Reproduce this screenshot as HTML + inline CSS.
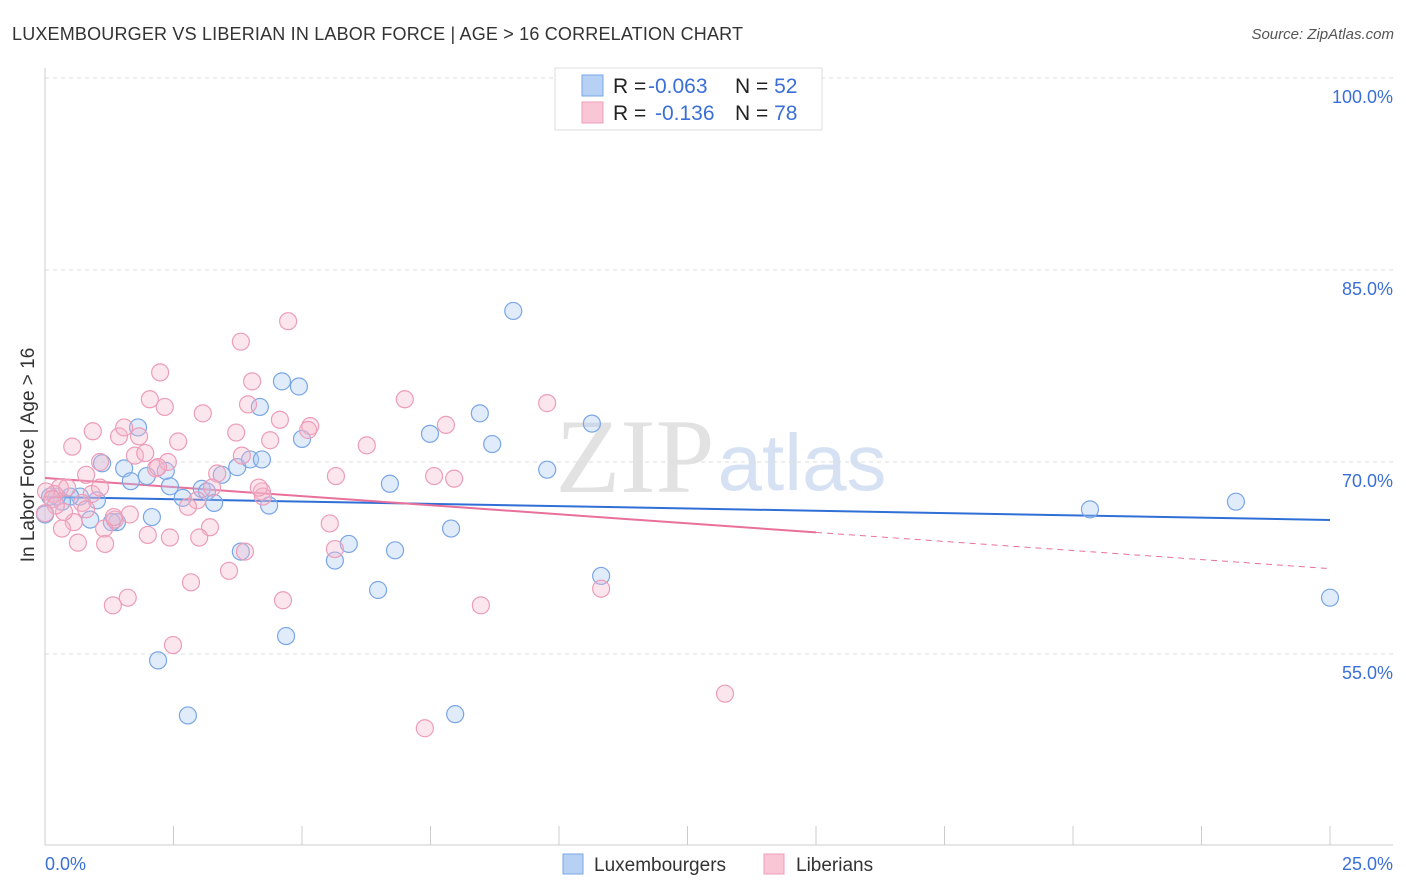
<!DOCTYPE html>
<html><head><meta charset="utf-8"><style>
body{margin:0;background:#fff;font-family:"Liberation Sans",sans-serif;}
svg{display:block}
</style></head><body>
<svg id="chart" width="1406" height="892" xmlns="http://www.w3.org/2000/svg">
<text x="12" y="40" font-size="18" fill="#333" textLength="731">LUXEMBOURGER VS LIBERIAN IN LABOR FORCE | AGE &gt; 16 CORRELATION CHART</text>
<text x="1394" y="39" font-size="15" fill="#555" font-style="italic" text-anchor="end">Source: ZipAtlas.com</text>
<g>
<text x="635" y="492" font-size="106" fill="#e2e2e2" font-family="Liberation Serif,serif" text-anchor="middle">ZIP</text>
<text x="802" y="490" font-size="80" fill="#d6e2f3" text-anchor="middle">atlas</text>
</g>
<g id="grid"></g>
<g id="axes"></g>
<g id="lines"></g>
<g id="points"></g>
<text transform="translate(34,455) rotate(-90)" font-size="19" fill="#333" text-anchor="middle">In Labor Force | Age &gt; 16</text>
<text x="45" y="870" font-size="18" fill="#3a6fd8">0.0%</text>
<text x="1393" y="870" font-size="18" fill="#3a6fd8" text-anchor="end">25.0%</text>
<g>
<rect x="555" y="68" width="267" height="62" fill="#fff" stroke="#ddd"/>
<rect x="582" y="75" width="21" height="21" fill="#b7d1f4" stroke="#7aa6e6"/>
<rect x="582" y="102" width="21" height="21" fill="#f9c6d6" stroke="#ec9db8"/>
<text x="613" y="93" font-size="21" fill="#222">R = <tspan x="648" fill="#3a6fd8">-0.063</tspan><tspan x="735">N = </tspan><tspan fill="#3a6fd8">52</tspan></text>
<text x="613" y="120" font-size="21" fill="#222">R = <tspan x="655" fill="#3a6fd8">-0.136</tspan><tspan x="735">N = </tspan><tspan fill="#3a6fd8">78</tspan></text>
</g>
<g>
<rect x="563" y="854" width="20" height="20" fill="#b7d1f4" stroke="#7aa6e6"/>
<text x="594" y="871" font-size="19" fill="#333">Luxembourgers</text>
<rect x="764" y="854" width="20" height="20" fill="#f9c6d6" stroke="#ec9db8"/>
<text x="796" y="871" font-size="19" fill="#333">Liberians</text>
</g>
</svg>
<script>
const yTicks=[100,85,70,55];
const yTickLabels=["100.0%","85.0%","70.0%","55.0%"];
const xTicks=[0,2.5,5,7.5,10,12.5,15,17.5,20,22.5,25];
const blueX=[1.81,1.54,1.11,1.67,1.98,2.35,2.43,2.68,3.05,3.15,3.29,3.44,3.74,3.99,4.22,4.36,4.18,4.61,4.94,5.00,2.08,1.40,1.30,0.88,1.01,0.68,0.49,0.33,0.23,0.10,2.20,2.78,3.81,4.69,5.64,5.91,6.48,6.71,6.81,7.49,7.90,7.98,8.46,8.70,9.11,9.77,10.64,10.82,20.33,23.17,25.0,0];
const blueY=[72.7,69.5,69.9,68.5,68.9,69.3,68.1,67.2,67.9,67.7,66.8,69.0,69.6,70.2,70.2,66.6,74.3,76.3,75.9,71.8,65.7,65.3,65.3,65.5,67.0,67.3,67.3,66.9,67.3,67.3,54.5,50.2,63.0,56.4,62.3,63.6,60.0,68.3,63.1,72.2,64.8,50.3,73.8,71.4,81.8,69.4,73.0,61.1,66.3,66.9,59.4,65.9];
const pinkX=[2.24,2.04,2.33,3.81,4.73,4.03,3.95,3.07,3.72,4.38,4.57,5.16,5.12,7.00,9.77,7.80,6.26,5.66,7.57,7.96,0.53,0.93,1.44,1.54,1.83,1.75,2.16,2.59,2.39,3.35,2.96,2.78,3.21,3.00,2.43,2.00,1.15,1.36,0.56,0.33,0.64,1.17,0.80,0.91,1.07,0.29,0.18,0.37,0.02,3.89,3.58,2.84,2.49,1.61,1.32,4.63,4.22,4.24,5.54,5.64,8.48,10.82,7.39,13.23,0.14,0.21,0.43,0.72,1.07,1.65,1.95,2.20,3.83,4.16,3.25,1.34,0.80,0];
const pinkY=[77.0,74.9,74.3,79.4,81.0,76.3,74.5,73.8,72.3,71.7,73.3,72.8,72.5,74.9,74.6,72.9,71.3,68.9,68.9,68.7,71.2,72.4,72.0,72.7,72.0,70.5,69.5,71.6,70.0,69.1,67.0,66.5,64.9,64.1,64.1,64.3,64.8,65.5,65.3,64.8,63.7,63.6,69.0,67.5,70.0,68.0,67.5,66.1,67.7,63.0,61.5,60.6,55.7,59.4,58.8,59.2,67.7,67.3,65.2,63.2,58.8,60.1,49.2,51.9,67.1,66.6,68.0,66.8,68.0,65.9,70.7,69.6,70.5,68.0,68.0,65.7,66.3,66.0];
const blueTrend=[67.27,65.47];
const pinkTrend=[68.75,64.5,61.67];
const pinkTrendX=[0,15,25];

const NS="http://www.w3.org/2000/svg";
const xs=v=>45+v*51.4;
const ys=v=>78+(100-v)*12.8;
function mk(tag,attrs,parent){const e=document.createElementNS(NS,tag);for(const k in attrs)e.setAttribute(k,attrs[k]);parent.appendChild(e);return e;}
const grid=document.getElementById('grid'),axes=document.getElementById('axes'),lines=document.getElementById('lines'),pts=document.getElementById('points');
yTicks.forEach((t,i)=>{
  const l=mk('line',{x1:45,x2:1393,y1:ys(t),y2:ys(t),stroke:'#ddd','stroke-dasharray':'4,4'},grid);
  
  
  const tx=mk('text',{x:1393,y:ys(t)+25,'font-size':18,fill:'#3a6fd8','text-anchor':'end'},grid);
  tx.textContent=yTickLabels[i];
  
  
});
const ax1=mk('line',{x1:45,x2:45,y1:68,y2:845,stroke:'#ccc'},axes);


const ax2=mk('line',{x1:45,x2:1393,y1:845,y2:845,stroke:'#ccc'},axes);


xTicks.forEach(t=>{
  const l=mk('line',{x1:xs(t),x2:xs(t),y1:826,y2:845,stroke:'#ccc'},axes);
  
  
});
blueX.forEach((x,i)=>{
  const c=mk('circle',{cx:xs(x),cy:ys(blueY[i]),r:8.5,fill:'rgba(168,200,240,0.35)',stroke:'#7aa6e6','stroke-width':1.2},pts);
  
  
});
pinkX.forEach((x,i)=>{
  const c=mk('circle',{cx:xs(x),cy:ys(pinkY[i]),r:8.5,fill:'rgba(246,184,204,0.35)',stroke:'#ec9db8','stroke-width':1.2},pts);
  
  
});
const bl=mk('line',{x1:xs(0),y1:ys(blueTrend[0]),x2:xs(25),y2:ys(blueTrend[1]),stroke:'#2f6fd6','stroke-width':2},lines);


const pl=mk('line',{x1:xs(pinkTrendX[0]),y1:ys(pinkTrend[0]),x2:xs(pinkTrendX[1]),y2:ys(pinkTrend[1]),stroke:'#e8709a','stroke-width':2},lines);


const pd=mk('line',{x1:xs(pinkTrendX[1]),y1:ys(pinkTrend[1]),x2:xs(pinkTrendX[2]),y2:ys(pinkTrend[2]),stroke:'#e8709a','stroke-width':1,'stroke-dasharray':'6,5'},lines);


</script>
</body></html>
